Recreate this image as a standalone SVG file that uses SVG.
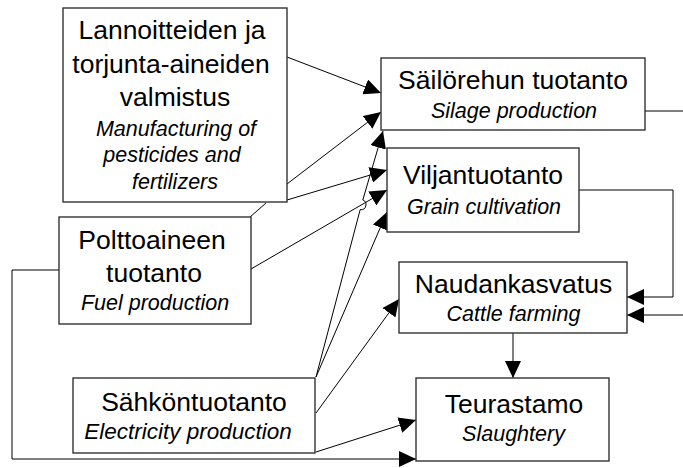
<svg xmlns="http://www.w3.org/2000/svg" width="683" height="468" viewBox="0 0 683 468">
  <style>
    .box { fill: #ffffff; stroke: #333333; stroke-width: 1.4; }
    .t { font-family: "Liberation Sans", Arial, sans-serif; font-size: 26.5px; fill: #000000; text-anchor: middle; }
    .i { font-family: "Liberation Sans", Arial, sans-serif; font-size: 21.5px; font-style: italic; fill: #000000; text-anchor: middle; }
    .c { fill: none; stroke: #000000; stroke-width: 1; }
  </style>
  <defs>
    <marker id="arr" markerUnits="userSpaceOnUse" markerWidth="17" markerHeight="16" refX="17" refY="8" orient="auto">
      <path d="M0,0 L17,8 L0,16 z" fill="#000000"/>
    </marker>
  </defs>
  <rect width="683" height="468" fill="#ffffff"/>

  <!-- connectors -->
  <g id="connectors">
    <line class="c" x1="287" y1="57" x2="381" y2="93" marker-end="url(#arr)"/>
    <line class="c" x1="287" y1="184" x2="381" y2="112" marker-end="url(#arr)"/>
    <line class="c" x1="287" y1="200" x2="387" y2="170" marker-end="url(#arr)"/>
    <line class="c" x1="266" y1="203" x2="250" y2="217"/>
    <line class="c" x1="251" y1="269" x2="387" y2="190" marker-end="url(#arr)"/>
    <!-- steep line with a hop over the fuel line -->
    <path class="c" d="M316,377 L360.2,209.6 A5,5 0 0 0 362.8,200 L383,131" marker-end="url(#arr)"/>
    <line class="c" x1="316" y1="377" x2="387" y2="212" marker-end="url(#arr)"/>
    <line class="c" x1="316" y1="413" x2="399" y2="299" marker-end="url(#arr)"/>
    <line class="c" x1="316" y1="452" x2="416" y2="420" marker-end="url(#arr)"/>
    <polyline class="c" points="59,270 12,270 12,459 416,459" marker-end="url(#arr)"/>
    <line class="c" x1="645" y1="111" x2="683" y2="111"/>
    <polyline class="c" points="579,190 673,190 673,297 627,297" marker-end="url(#arr)"/>
    <line class="c" x1="683" y1="315" x2="627" y2="315" marker-end="url(#arr)"/>
    <line class="c" x1="513" y1="333" x2="513" y2="378" marker-end="url(#arr)"/>
  </g>

  <g id="lannoitteet">
    <rect class="box" x="63" y="8" width="224" height="194"/>
    <text class="t" x="172" y="39">Lannoitteiden ja</text>
    <text class="t" x="171" y="73">torjunta-aineiden</text>
    <text class="t" x="175" y="106">valmistus</text>
    <text class="i" x="176" y="136">Manufacturing of</text>
    <text class="i" x="172" y="162">pesticides and</text>
    <text class="i" x="175" y="189">fertilizers</text>
  </g>

  <g id="polttoaine">
    <rect class="box" x="59" y="217" width="192" height="107"/>
    <text class="t" x="152" y="249">Polttoaineen</text>
    <text class="t" x="154" y="282">tuotanto</text>
    <text class="i" x="155" y="310">Fuel production</text>
  </g>

  <g id="sahko">
    <rect class="box" x="73" y="378" width="242" height="75"/>
    <text class="t" x="194" y="411">Sähköntuotanto</text>
    <text class="i" x="188" y="438.5" style="font-size:22.5px">Electricity production</text>
  </g>

  <g id="sailorehu">
    <rect class="box" x="381" y="58" width="264" height="72"/>
    <text class="t" x="513" y="89">Säilörehun tuotanto</text>
    <text class="i" x="514" y="117.5">Silage production</text>
  </g>

  <g id="vilja">
    <rect class="box" x="387" y="148" width="192" height="84"/>
    <text class="t" x="483" y="184">Viljantuotanto</text>
    <text class="i" x="484" y="213.5">Grain cultivation</text>
  </g>

  <g id="nauta">
    <rect class="box" x="399" y="262" width="228" height="71"/>
    <text class="t" x="513.5" y="292.5">Naudankasvatus</text>
    <text class="i" x="513.5" y="320.5">Cattle farming</text>
  </g>

  <g id="teurastamo">
    <rect class="box" x="416" y="378" width="193" height="83"/>
    <text class="t" x="514" y="412.5">Teurastamo</text>
    <text class="i" x="513.5" y="440.5">Slaughtery</text>
  </g>
</svg>
